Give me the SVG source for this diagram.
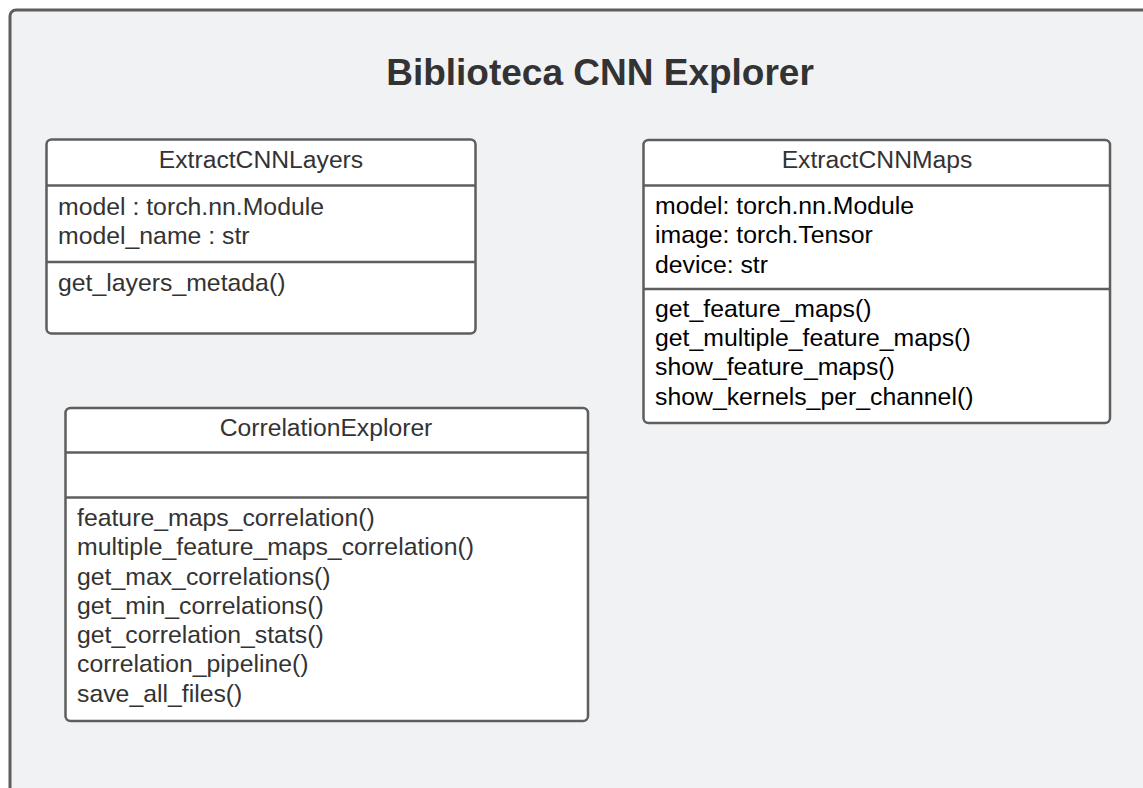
<svg xmlns="http://www.w3.org/2000/svg" width="1143" height="788" viewBox="0 0 1143 788">
<style>
.frame{fill:#f1f2f4;stroke:#5c5c5c;stroke-width:3}
.box{fill:#ffffff;stroke:#5e5e5e;stroke-width:2.5}
.div{stroke:#5e5e5e;stroke-width:2.5}
.title{font-family:"Liberation Sans",Arial,sans-serif;font-size:37px;font-weight:bold;fill:#333333}
.hdr{font-family:"Liberation Sans",Arial,sans-serif;font-size:24.7px;fill:#333333;text-anchor:middle}
.t{font-family:"Liberation Sans",Arial,sans-serif;font-size:24.8px;fill:#333333}
.tb{font-family:"Liberation Sans",Arial,sans-serif;font-size:24.8px;fill:#000000}
</style>
<rect class="frame" x="10" y="10" width="1145" height="800" rx="6"/>
<text class="title" x="600" y="85" text-anchor="middle">Biblioteca CNN Explorer</text>
<g id="ExtractCNNLayers">
<rect class="box" x="46.5" y="139.5" width="429" height="194" rx="5"/>
<line class="div" x1="46.5" y1="185.5" x2="475.5" y2="185.5"/>
<line class="div" x1="46.5" y1="262" x2="475.5" y2="262"/>
<text class="hdr" x="261" y="168">ExtractCNNLayers</text>
<text class="t" x="58" y="215">model : torch.nn.Module</text>
<text class="t" x="58" y="244">model_name : str</text>
<text class="t" x="58" y="291">get_layers_metada()</text>
</g>
<g id="ExtractCNNMaps">
<rect class="box" x="643.5" y="140" width="466.5" height="283" rx="5"/>
<line class="div" x1="643.5" y1="185.5" x2="1110" y2="185.5"/>
<line class="div" x1="643.5" y1="289" x2="1110" y2="289"/>
<text class="hdr" x="877" y="168">ExtractCNNMaps</text>
<text class="tb" x="655" y="214">model: torch.nn.Module</text>
<text class="tb" x="655" y="243">image: torch.Tensor</text>
<text class="tb" x="655" y="273">device: str</text>
<text class="tb" x="655" y="317">get_feature_maps()</text>
<text class="tb" x="655" y="346">get_multiple_feature_maps()</text>
<text class="tb" x="655" y="375">show_feature_maps()</text>
<text class="tb" x="655" y="405">show_kernels_per_channel()</text>
</g>
<g id="CorrelationExplorer">
<rect class="box" x="65.5" y="408" width="522.5" height="313" rx="5"/>
<line class="div" x1="65.5" y1="452.5" x2="588" y2="452.5"/>
<line class="div" x1="65.5" y1="497.5" x2="588" y2="497.5"/>
<text class="hdr" x="326" y="436">CorrelationExplorer</text>
<text class="t" x="77" y="526">feature_maps_correlation()</text>
<text class="t" x="77" y="555">multiple_feature_maps_correlation()</text>
<text class="t" x="77" y="585">get_max_correlations()</text>
<text class="t" x="77" y="614">get_min_correlations()</text>
<text class="t" x="77" y="643">get_correlation_stats()</text>
<text class="t" x="77" y="672">correlation_pipeline()</text>
<text class="t" x="77" y="702">save_all_files()</text>
</g>
<g id="connectors"></g>
</svg>
